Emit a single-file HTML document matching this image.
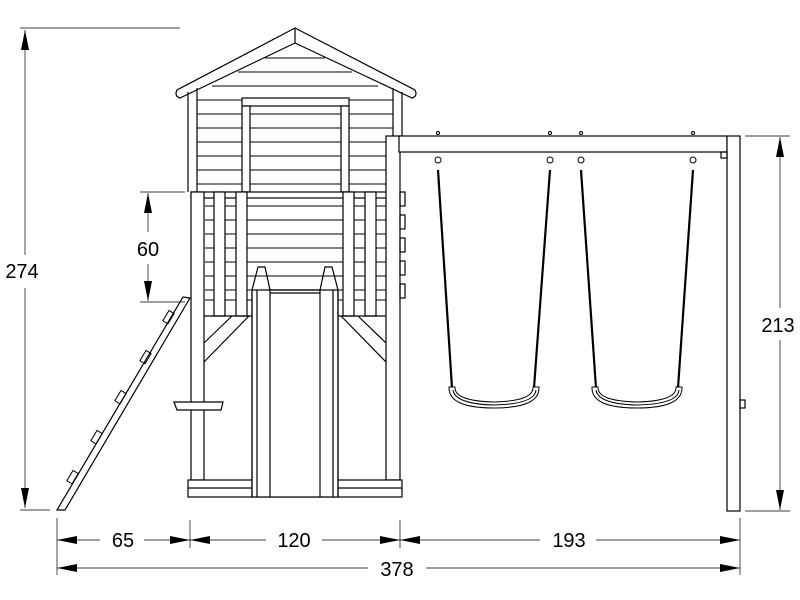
<!DOCTYPE html>
<html><head><style>body{margin:0;background:#fff}svg{display:block}</style></head><body>
<svg width="800" height="600" viewBox="0 0 800 600" xmlns="http://www.w3.org/2000/svg" font-family="Liberation Sans, sans-serif">
<defs><marker id="a" viewBox="0 0 10 4" refX="10" refY="2" markerWidth="22" markerHeight="8" markerUnits="userSpaceOnUse" orient="auto-start-reverse"><path d="M0,0L10,2L0,4z" fill="#000"/></marker></defs>
<g fill="none" stroke="#000" stroke-width="1.2">
<!-- roof -->
<path d="M295,28 L415,90 Q418,96 412,98 L295,43 L180,98 Q174,96 177,90 Z" fill="#fff"/>
<line x1="295" y1="28" x2="295" y2="43"/>
<!-- walls -->
<line x1="188" y1="92" x2="188" y2="192"/><line x1="197" y1="88" x2="197" y2="192"/>
<line x1="402" y1="92" x2="402" y2="136"/><line x1="393" y1="88" x2="393" y2="136"/>
<g stroke-width="1">
<line x1="265" y1="58" x2="325" y2="58"/><line x1="238" y1="72" x2="352" y2="72"/><line x1="212" y1="86" x2="378" y2="86"/>
<line x1="197" y1="100" x2="393" y2="100"/><line x1="197" y1="114" x2="393" y2="114"/><line x1="197" y1="128" x2="393" y2="128"/>
<line x1="197" y1="142" x2="386" y2="142"/><line x1="197" y1="156" x2="386" y2="156"/><line x1="197" y1="170" x2="386" y2="170"/><line x1="197" y1="184" x2="386" y2="184"/>
<line x1="205" y1="206" x2="386" y2="206"/><line x1="205" y1="220" x2="386" y2="220"/><line x1="205" y1="234" x2="386" y2="234"/><line x1="205" y1="248" x2="386" y2="248"/><line x1="205" y1="262" x2="386" y2="262"/><line x1="205" y1="276" x2="386" y2="276"/><line x1="205" y1="290" x2="386" y2="290"/><line x1="205" y1="300" x2="386" y2="300"/>
</g>
<!-- window frame -->
<rect x="242" y="98" width="107" height="8" fill="#fff"/>
<rect x="242" y="106" width="8" height="86" fill="#fff"/><rect x="341" y="106" width="8" height="86" fill="#fff"/>
<!-- railing -->
<rect x="191" y="192" width="196" height="6" fill="#fff"/>
<rect x="214" y="192" width="11" height="124" fill="#fff"/><rect x="236" y="192" width="11" height="124" fill="#fff"/>
<rect x="343" y="192" width="11" height="124" fill="#fff"/><rect x="365" y="192" width="11" height="124" fill="#fff"/>
<line x1="191" y1="316" x2="400" y2="316"/>
<!-- posts -->
<rect x="191" y="192" width="13" height="288" fill="#fff"/>
<rect x="386" y="136" width="14" height="344" fill="#fff"/>
<rect x="400" y="192" width="5" height="14"/><rect x="400" y="215" width="5" height="14"/><rect x="400" y="238" width="5" height="14"/><rect x="400" y="261" width="5" height="14"/><rect x="400" y="284" width="5" height="14"/>
<!-- braces -->
<path d="M204,343 L232,316 M204,362 L249,316 M386,343 L358,316 M386,362 L341,316"/>
<!-- lower rail / shelf -->
<path d="M174,402 L223,402 L221,410 L177,410 Z" fill="#fff"/>
<!-- base -->
<rect x="188" y="480" width="214" height="17" fill="#fff"/><line x1="188" y1="488" x2="402" y2="488"/>
<!-- slide -->
<rect x="252" y="290" width="86" height="207" fill="#fff"/>
<path d="M252,497 L252,290 L258,267 L265,267 L270,290 L270,497"/>
<path d="M320,497 L320,290 L325,267 L332,267 L338,290 L338,497"/>
<line x1="257" y1="290" x2="257" y2="497"/><line x1="333" y1="290" x2="333" y2="497"/>
<line x1="270" y1="290" x2="320" y2="290"/><line x1="270" y1="293" x2="320" y2="293"/>
<!-- ladder -->
<path d="M57,510 L183,297 L190,298 L65,510 Z" fill="#fff"/>
<g stroke-width="1">
<rect x="-5" y="-3" width="12" height="6" transform="translate(72,478) rotate(-59)"/>
<rect x="-5" y="-3" width="12" height="6" transform="translate(96,438) rotate(-59)"/>
<rect x="-5" y="-3" width="12" height="6" transform="translate(120,398) rotate(-59)"/>
<rect x="-5" y="-3" width="12" height="6" transform="translate(145,358) rotate(-59)"/>
<rect x="-5" y="-3" width="12" height="6" transform="translate(168,318) rotate(-59)"/>
</g>
<!-- swing frame -->
<rect x="399" y="136" width="328" height="16" fill="#fff"/>
<rect x="727" y="136" width="13" height="375" fill="#fff"/>
<rect x="740" y="400" width="5" height="8"/><rect x="721" y="152" width="6" height="6"/>
</g>
<!-- chains -->
<g stroke="#000" stroke-width="2.2">
<line x1="438" y1="170" x2="452" y2="388"/><line x1="550" y1="170" x2="534" y2="388"/>
<line x1="581" y1="170" x2="596" y2="388"/><line x1="693" y1="170" x2="678" y2="388"/>
</g>
<g fill="#fff" stroke="#000" stroke-width="1">
<circle cx="438" cy="160" r="3"/><circle cx="550" cy="160" r="3"/><circle cx="581" cy="160" r="3"/><circle cx="693" cy="160" r="3"/>
<circle cx="438" cy="133" r="1.5"/><circle cx="550" cy="133" r="1.5"/><circle cx="581" cy="133" r="1.5"/><circle cx="693" cy="133" r="1.5"/>
<path d="M449,387 Q448,408 494,408 Q540,408 539,387 L533,387 Q534,401 494,402 Q454,401 455,387 Z"/>
<path d="M453,390 Q455,404 494,405 Q535,404 536,390" fill="none"/>
<path d="M592,387 Q591,408 637,408 Q683,408 682,387 L676,387 Q677,401 637,402 Q597,401 598,387 Z"/>
<path d="M596,390 Q598,404 637,405 Q678,404 679,390" fill="none"/>
</g>
<!-- dimensions -->
<g stroke="#000" stroke-width="0.7" fill="none">
<path d="M20,28 L180,28 M20,510 L50,510 M140,192 L185,192 M140,302 L185,302 M745,136 L790,136 M745,511 L790,511"/>
<path d="M57,518 L57,575 M190,520 L190,548 M400,520 L400,548 M740,518 L740,575"/>
<line x1="25" y1="30" x2="25" y2="255" marker-start="url(#a)"/><line x1="25" y1="288" x2="25" y2="508" marker-end="url(#a)"/>
<line x1="148" y1="193" x2="148" y2="232" marker-start="url(#a)"/><line x1="148" y1="264" x2="148" y2="301" marker-end="url(#a)"/>
<line x1="780" y1="137" x2="780" y2="308" marker-start="url(#a)"/><line x1="780" y1="340" x2="780" y2="510" marker-end="url(#a)"/>
<line x1="57" y1="540" x2="100" y2="540" marker-start="url(#a)"/><line x1="144" y1="540" x2="190" y2="540" marker-end="url(#a)"/>
<line x1="190" y1="540" x2="266" y2="540" marker-start="url(#a)"/><line x1="322" y1="540" x2="400" y2="540" marker-end="url(#a)"/>
<line x1="400" y1="540" x2="540" y2="540" marker-start="url(#a)"/><line x1="596" y1="540" x2="740" y2="540" marker-end="url(#a)"/>
<line x1="57" y1="568" x2="368" y2="568" marker-start="url(#a)"/><line x1="426" y1="568" x2="740" y2="568" marker-end="url(#a)"/>
</g>
<g font-size="20" fill="#000" text-anchor="middle">
<text x="22" y="278">274</text><text x="148" y="256">60</text><text x="778" y="332">213</text>
<text x="123" y="547">65</text><text x="294" y="547">120</text><text x="569" y="547">193</text><text x="397" y="576">378</text>
</g>
</svg>
</body></html>
